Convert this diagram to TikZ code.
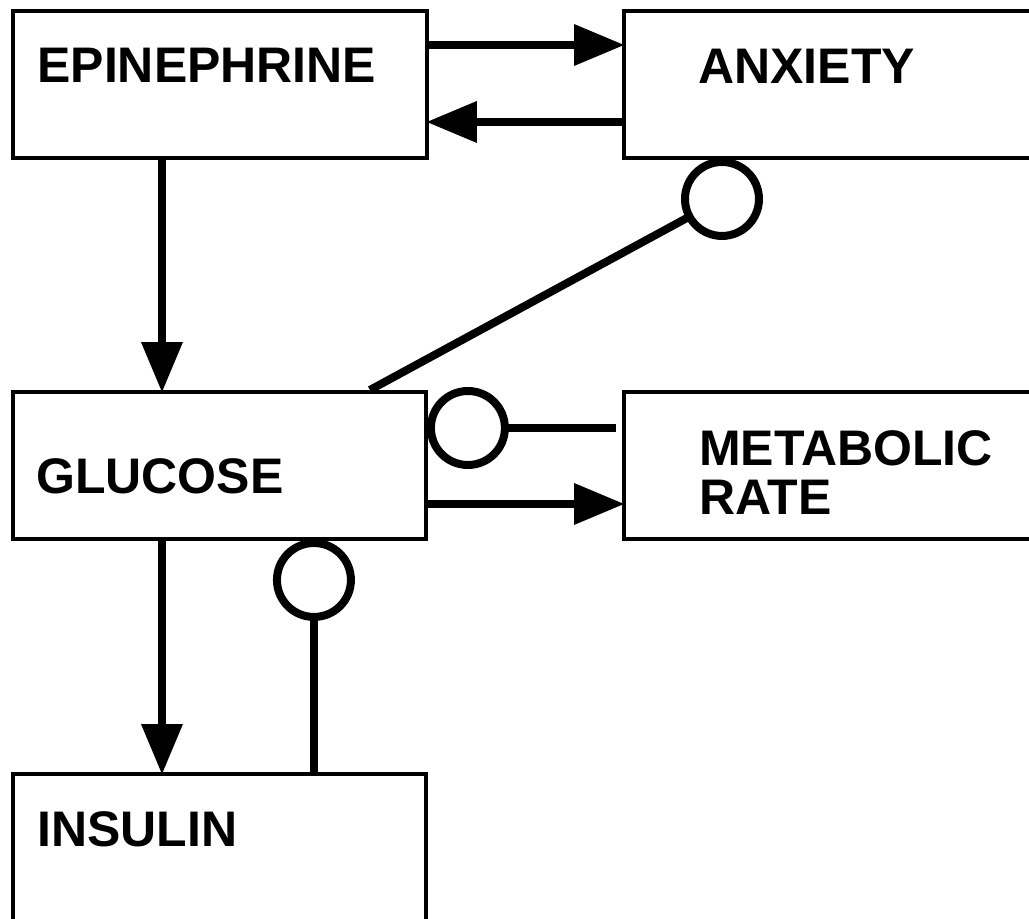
\documentclass[tikz,border=0pt]{standalone}
\usepackage{fontspec}
\setmainfont{Liberation Sans}
\usetikzlibrary{arrows.meta}

\begin{document}
\begin{tikzpicture}[x=0.02cm, y=-0.02cm,
  box/.style={draw, line width=0.08cm, rectangle, inner sep=0pt, outer sep=0pt, anchor=north west, minimum height=2.94cm},
  lbl/.style={anchor=base west, inner sep=0pt, align=left, font=\bfseries\fontsize{28.45}{27.9}\selectfont},
  arr/.style={line width=0.16cm, -{Triangle[length=1cm, width=0.84cm, line width=0pt]}},
  inh/.style={draw, circle, line width=0.16cm, minimum size=1.48cm, inner sep=0pt, outer sep=0pt},
  bar/.style={line width=0.16cm}]
\useasboundingbox (0,0) rectangle (1029,919);

\node [box, minimum width=8.28cm] (epi) at (13,11) {};
\node [box, minimum width=8.4cm] (anx) at (624,11) {};
\node [box, minimum width=8.26cm] (glu) at (13,392) {};
\node [box, minimum width=8.4cm] (met) at (624,392) {};
\node [box, minimum width=8.26cm] (ins) at (13,774) {};

\node [lbl] (epitxt) at ([xshift=0.48cm, yshift=-1.44cm]epi.north west) {EPINEPHRINE};
\node [lbl] (anxtxt) at ([xshift=1.48cm, yshift=-1.46cm]anx.north west) {ANXIETY};
\node [lbl] (glutxt) at ([xshift=0.46cm, yshift=-2.04cm]glu.north west) {GLUCOSE};
% base of a two-line node is the last line
\node [lbl] (mettxt) at ([xshift=1.5cm, yshift=-2.46cm]met.north west) {METABOLIC\\RATE};
\node [lbl] (instxt) at ([xshift=0.48cm, yshift=-1.46cm]ins.north west) {INSULIN};

\node [inh] (anxinh) at ([xshift=1.96cm, yshift=-0.82cm]anx.south west) {};
\node [inh] (metinh) at ([xshift=0.84cm, yshift=-0.72cm]glu.north east) {};
\node [inh] (insinh) at ([xshift=6.02cm, yshift=-0.82cm]glu.south west) {};

\draw [arr] ([yshift=-0.68cm]epi.north east) -- ([yshift=-0.68cm]anx.north west);
\draw [arr] ([yshift=-2.22cm]anx.north west) -- ([yshift=-2.22cm]epi.north east);
\draw [arr] ([xshift=2.98cm]epi.south west) -- ([xshift=2.98cm]glu.north west);
\draw [arr] ([xshift=2.98cm]glu.south west) -- ([xshift=2.98cm]ins.north west);
\draw [arr] ([yshift=-2.24cm]glu.north east) -- ([yshift=-2.24cm]met.north west);

\draw [bar] ([xshift=7.14cm, yshift=0.04cm]glu.north west) -- (anxinh);
\draw [bar, shorten >=0.16cm] (metinh.east) -- (metinh.east -| met.west);
\draw [bar] (insinh.south) -- (insinh.south |- ins.north);
\end{tikzpicture}
\end{document}
